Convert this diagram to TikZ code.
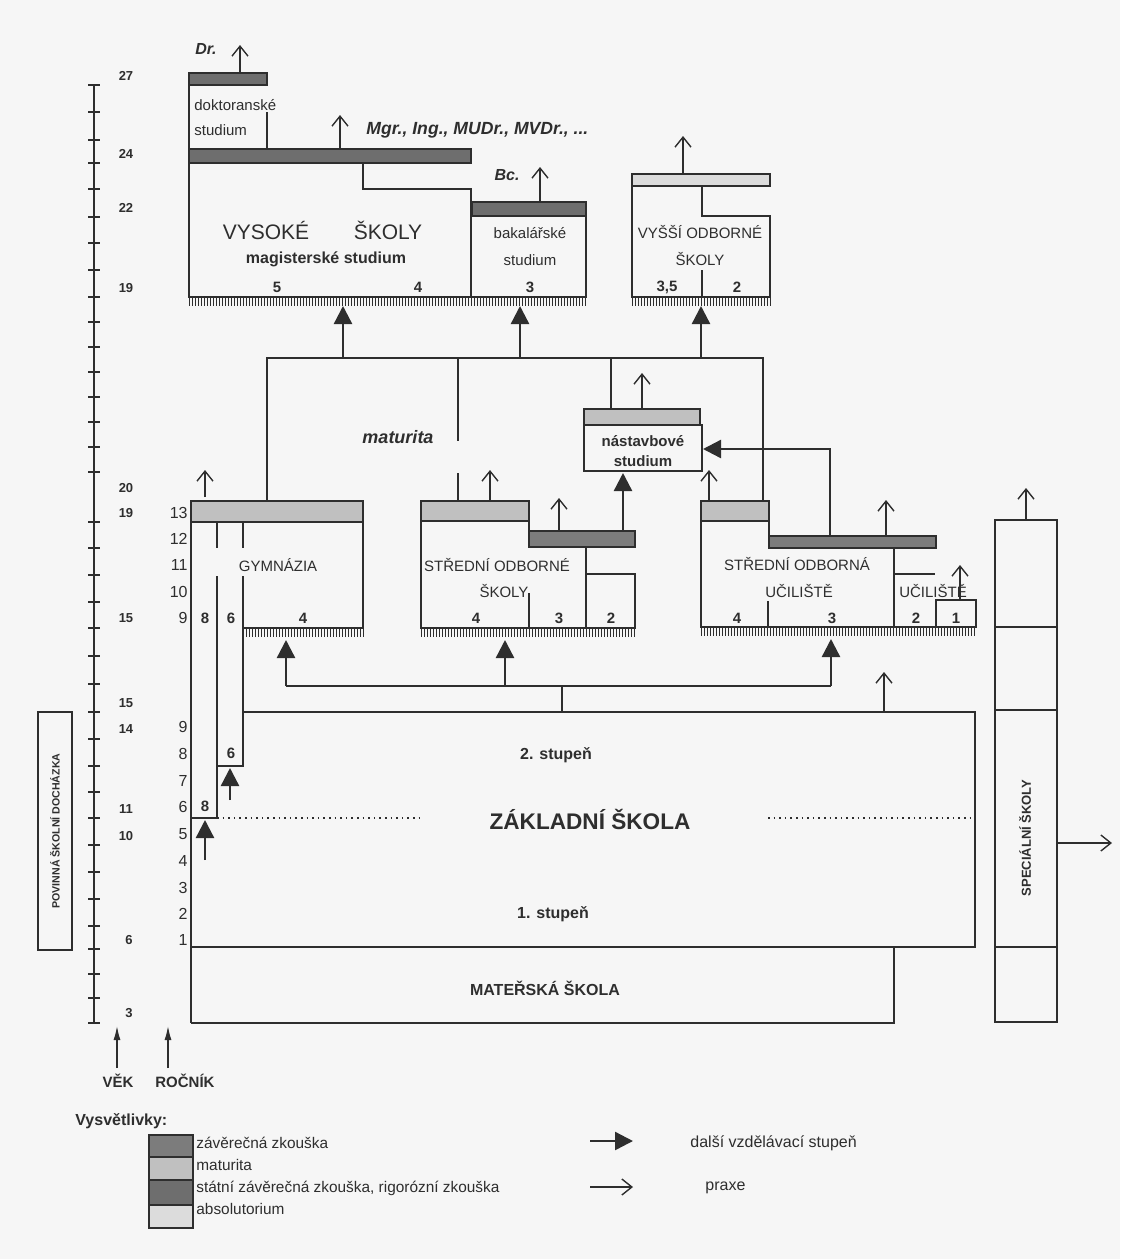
\documentclass[tikz,border=0pt]{standalone}
\usepackage{fontspec}
\setmainfont{Liberation Sans}
\usetikzlibrary{arrows.meta}
\definecolor{ink}{HTML}{2E2E2E}
\definecolor{bg}{HTML}{F6F6F6}
\definecolor{statni}{HTML}{6E6E6E}
\definecolor{zaver}{HTML}{7C7C7C}
\definecolor{matur}{HTML}{C0C0C0}
\definecolor{absol}{HTML}{DCDCDC}
\newcommand\fsz[1]{\fontsize{#1}{#1}\selectfont}
\newcommand\mycomb[3]{%
  \pgfmathtruncatemacro\ncomb{((#2)-(#1))/3}%
  \foreach \i in {0,...,\ncomb}{\draw[ink,line width=0.5pt] ({#1+3*\i},#3) -- ({#1+3*\i},#3+8);}}
\begin{document}
\begin{tikzpicture}[x=0.5pt,y=-0.5pt,
  frame/.style={draw=ink,line width=1.2pt},
  thinl/.style={draw=ink,line width=0.7pt},
  bar/.style={draw=ink,line width=1pt},
  nextstep/.style={draw=ink,line width=1.2pt,-{Triangle[length=9pt,width=9pt]}},
  praxe/.style={draw=ink,line width=0.7pt,-{Straight Barb[length=5pt,width=8pt]}},
  axisarrow/.style={draw=ink,line width=0.7pt,-{Latex[length=7pt,width=3.5pt]}},
  lbl/.style={text=ink,inner sep=0pt,font=\fsz{7.5}},
  blbl/.style={text=ink,inner sep=0pt,font=\fsz{7.5}\bfseries},
  agelbl/.style={text=ink,inner sep=0pt,font=\fsz{6.5}\bfseries},
  grlbl/.style={text=ink,inner sep=0pt,font=\fsz{8},anchor=east},
  itl/.style={text=ink,inner sep=0pt,font=\fsz{8}\bfseries\itshape}
]
\useasboundingbox (0,0) rectangle (1120,1259);
\fill[bg] (0,0) rectangle (1120,1259);

% ---------- age scale ----------
\draw[thinl] (94,85) -- (94,1023);
\foreach \t in {85,112,140,163,189,217,243,270,297,322,347,372,397,422,447,472,522,548,575,602,628,656,684,712,739,766,792,818,845,872,899,926,949,974,998,1023}
  \draw[thinl] (88,\t) -- (100,\t);
\foreach \v/\y in {27/76,24/154,22/208,19/288,20/488,19/513,15/618,15/703,14/729,11/809,10/836}
  \node[agelbl] (age\v y\y) at (126,\y) {\v};
\node[agelbl] (age6) at (129,940) {6};
\node[agelbl] (age3) at (129,1013) {3};

% grade numbers
\foreach \v/\y in {13/513,12/539,11/565,10/592,9/618}
  \node[grlbl] (grU\v) at (188,\y) {\v};
\foreach \v/\y in {9/727,8/754,7/781,6/807,5/834,4/861,3/888,2/914,1/940}
  \node[grlbl] (grL\v) at (188,\y) {\v};
\node[blbl] (g8a) at (205,618) {8};
\node[blbl] (g6a) at (231,618) {6};
\node[blbl] (g8b) at (205,806) {8};
\node[blbl] (g6b) at (231,753) {6};

% compulsory attendance
\draw[frame] (38,712) rectangle (72,950);
\node[text=ink,inner sep=0pt,font=\fsz{5.3}\bfseries,rotate=90] (povinna) at (55,831) {POVINNÁ ŠKOLNÍ DOCHÁZKA};

% axis arrows
\coordinate (vekA) at (117,1068); \coordinate (vekB) at (117,1026);
\coordinate (rocA) at (168,1068); \coordinate (rocB) at (168,1026);
\draw[axisarrow] (vekA) -- (vekB);
\draw[axisarrow] (rocA) -- (rocB);
\node[blbl] (vek) at (118,1081) {VĚK};
\node[blbl] (rocnik) at (185,1081) {ROČNÍK};

% ---------- higher education ----------
% doctoral
\fill[statni] (189,73) rectangle (267,85); \draw[bar] (189,73) rectangle (267,85);
\draw[frame] (189,85) -- (189,149);
\draw[frame] (267,112) -- (267,149);
\node[lbl,anchor=west] (dokt1) at (194,105) {doktoranské};
\node[lbl,anchor=west] (dokt2) at (194,130) {studium};
\node[itl] (dr) at (206,49) {Dr.};
\draw[praxe] (240,73) -- (240,45);
% master
\fill[statni] (189,149) rectangle (471,163); \draw[bar] (189,149) rectangle (471,163);
\draw[frame] (189,163) -- (189,297) -- (586,297) -- (586,216);
\draw[frame] (363,163) -- (363,189) -- (471,189) -- (471,297);
\draw[praxe] (340,149) -- (340,115);
\node[itl,font=\fsz{8.8}\bfseries\itshape,anchor=west] (mgr) at (366,130) {Mgr., Ing., MUDr., MVDr., ...};
\node[text=ink,inner sep=0pt,font=\fsz{10.5}] (vs1) at (266,230) {VYSOKÉ};
\node[text=ink,inner sep=0pt,font=\fsz{10.5}] (vs2) at (388,230) {ŠKOLY};
\node[text=ink,inner sep=0pt,font=\fsz{8}\bfseries] (mag) at (326,259) {magisterské studium};
\node[blbl] (m5) at (277,287) {5};
\node[blbl] (m4) at (418,287) {4};
% bachelor
\fill[statni] (472,202) rectangle (586,216); \draw[bar] (472,202) rectangle (586,216);
\node[itl] (bc) at (507,175) {Bc.};
\draw[praxe] (540,202) -- (540,167);
\node[lbl] (bak1) at (530,233) {bakalářské};
\node[lbl] (bak2) at (530,260) {studium};
\node[blbl] (b3) at (530,287) {3};
\mycomb{189}{586}{298}
% VOS
\fill[absol] (632,174) rectangle (770,186); \draw[bar] (632,174) rectangle (770,186);
\draw[frame] (632,186) -- (632,297) -- (770,297) -- (770,216) -- (702,216) -- (702,186);
\draw[frame] (702,270) -- (702,297);
\draw[praxe] (683,174) -- (683,136);
\node[lbl] (vos1) at (700,232) {VYŠŠÍ ODBORNÉ};
\node[lbl] (vos2) at (700,259) {ŠKOLY};
\node[blbl] (v35) at (667,287) {3,5};
\node[blbl] (v2) at (737,287) {2};
\mycomb{632}{770}{298}

% ---------- maturita distribution ----------
\draw[frame] (267,501) -- (267,358) -- (763,358) -- (763,501);
\draw[frame] (458,358) -- (458,441);
\draw[frame] (458,473) -- (458,501);
\draw[frame] (611,358) -- (611,409);
\draw[nextstep] (343,358) -- (343,306);
\draw[nextstep] (520,358) -- (520,306);
\draw[nextstep] (701,358) -- (701,306);
\node[itl,font=\fsz{9}\bfseries\itshape] (matur) at (398,437) {maturita};

% nastavbove
\fill[matur] (584,409) rectangle (700,425); \draw[bar] (584,409) rectangle (700,425);
\draw[frame] (584,425) rectangle (702,471);
\node[blbl] (nas1) at (643,441) {nástavbové};
\node[blbl] (nas2) at (643,461) {studium};
\draw[praxe] (642,409) -- (642,373);
\draw[nextstep] (830,536) -- (830,449) -- (703,449);

% ---------- gymnazium ----------
\fill[matur] (191,501) rectangle (363,522); \draw[bar] (191,501) rectangle (363,522);
\draw[frame] (191,501) -- (191,1023);
\draw[frame] (363,522) -- (363,628) -- (243,628);
\draw[frame] (217,522) -- (217,548);
\draw[frame] (243,522) -- (243,548);
\draw[frame] (217,576) -- (217,818) -- (191,818);
\draw[frame] (243,576) -- (243,766) -- (217,766);
\mycomb{243}{363}{629}
\draw[praxe] (205,497) -- (205,470);
\node[lbl] (gym) at (278,565) {GYMNÁZIA};
\node[blbl] (gy4) at (303,618) {4};
\draw[nextstep] (205,860) -- (205,820);
\draw[nextstep] (230,800) -- (230,768);

% ---------- SOS ----------
\fill[matur] (421,501) rectangle (529,521); \draw[bar] (421,501) rectangle (529,521);
\fill[zaver] (529,531) rectangle (635,547); \draw[bar] (529,531) rectangle (635,547);
\draw[frame] (421,521) -- (421,628) -- (635,628) -- (635,574) -- (586,574);
\draw[frame] (529,521) -- (529,531);
\draw[frame] (586,547) -- (586,628);
\draw[frame] (529,593) -- (529,628);
\mycomb{421}{635}{629}
\draw[praxe] (490,501) -- (490,470);
\draw[praxe] (559,531) -- (559,498);
\draw[nextstep] (623,531) -- (623,473);
\node[lbl] (sos1) at (497,565) {STŘEDNÍ ODBORNÉ};
\node[lbl] (sos2) at (504,591) {ŠKOLY};
\node[blbl] (s4) at (476,618) {4};
\node[blbl] (s3) at (559,618) {3};
\node[blbl] (s2) at (611,618) {2};

% ---------- SOU ----------
\fill[matur] (701,501) rectangle (769,521); \draw[bar] (701,501) rectangle (769,521);
\fill[zaver] (769,536) rectangle (936,548); \draw[bar] (769,536) rectangle (936,548);
\draw[frame] (701,521) -- (701,627) -- (976,627) -- (976,600) -- (936,600) -- (936,627);
\draw[frame] (769,521) -- (769,536);
\draw[frame] (894,548) -- (894,627);
\draw[frame] (894,574) -- (935,574);
\draw[frame] (768,601) -- (768,627);
\mycomb{701}{976}{628}
\draw[praxe] (709,501) -- (709,470);
\draw[praxe] (886,536) -- (886,500);
\draw[praxe] (960,600) -- (960,565);
\node[lbl] (sou1) at (797,564) {STŘEDNÍ ODBORNÁ};
\node[lbl] (sou2) at (799,591) {UČILIŠTĚ};
\node[lbl] (uc) at (933,591) {UČILIŠTĚ};
\node[blbl] (u4) at (737,618) {4};
\node[blbl] (u3) at (832,618) {3};
\node[blbl] (u2) at (916,618) {2};
\node[blbl] (u1) at (956,618) {1};

% ---------- entry arrows from ZS ----------
\draw[frame] (286,686) -- (831,686);
\draw[frame] (562,686) -- (562,712);
\draw[nextstep] (286,686) -- (286,640);
\draw[nextstep] (505,686) -- (505,640);
\draw[nextstep] (831,686) -- (831,639);

% ---------- ZS and MS ----------
\draw[frame] (243,712) -- (975,712) -- (975,947) -- (191,947);
\draw[frame] (191,1023) -- (894,1023) -- (894,947);
\draw[ink,line width=0.8pt,dotted] (217,818) -- (420,818);
\draw[ink,line width=0.8pt,dotted] (768,818) -- (975,818);
\draw[praxe] (884,712) -- (884,672);
\node[text=ink,inner sep=0pt,font=\fsz{8}\bfseries] (st2) at (556,755) {2. stupeň};
\node[text=ink,inner sep=0pt,font=\fsz{11.3}\bfseries] (zs) at (590,819) {ZÁKLADNÍ ŠKOLA};
\node[text=ink,inner sep=0pt,font=\fsz{8}\bfseries] (st1) at (553,914) {1. stupeň};
\node[text=ink,inner sep=0pt,font=\fsz{8}\bfseries] (ms) at (545,988) {MATEŘSKÁ ŠKOLA};

% ---------- special schools ----------
\draw[frame] (995,520) rectangle (1057,627);
\draw[thinl] (995,627) -- (995,710);
\draw[thinl] (1057,627) -- (1057,710);
\draw[frame] (995,710) rectangle (1057,947);
\draw[frame] (995,947) rectangle (1057,1022);
\draw[praxe] (1026,520) -- (1026,488);
\draw[praxe] (1057,843) -- (1112,843);
\node[text=ink,inner sep=0pt,font=\fsz{6.5}\bfseries,rotate=90] (spec) at (1025,838) {SPECIÁLNÍ ŠKOLY};

% ---------- legend ----------
\node[text=ink,inner sep=0pt,font=\fsz{8}\bfseries,anchor=west] (vysv) at (75,1121) {Vysvětlivky:};
\fill[zaver] (149,1135) rectangle (193,1157);
\fill[matur] (149,1157) rectangle (193,1180);
\fill[statni] (149,1180) rectangle (193,1205);
\fill[absol] (149,1205) rectangle (193,1228);
\draw[bar] (149,1135) rectangle (193,1228);
\draw[thinl] (149,1157) -- (193,1157) (149,1180) -- (193,1180) (149,1205) -- (193,1205);
\node[lbl,font=\fsz{7.7},anchor=west] (l1) at (196,1143) {závěrečná zkouška};
\node[lbl,font=\fsz{7.7},anchor=west] (l2) at (196,1165) {maturita};
\node[lbl,font=\fsz{7.7},anchor=west] (l3) at (196,1188) {státní závěrečná zkouška, rigorózní zkouška};
\node[lbl,font=\fsz{7.7},anchor=west] (l4) at (196,1209) {absolutorium};
\coordinate (legA1) at (590,1141); \coordinate (legA2) at (633,1141);
\coordinate (legB1) at (590,1187); \coordinate (legB2) at (633,1187);
\draw[nextstep] (legA1) -- (legA2);
\draw[praxe] (legB1) -- (legB2);
\node[lbl,font=\fsz{8},anchor=west] (ldalsi) at (690,1143) {další vzdělávací stupeň};
\node[lbl,font=\fsz{8},anchor=west] (lpraxe) at (705,1188) {praxe};
\end{tikzpicture}
\end{document}
